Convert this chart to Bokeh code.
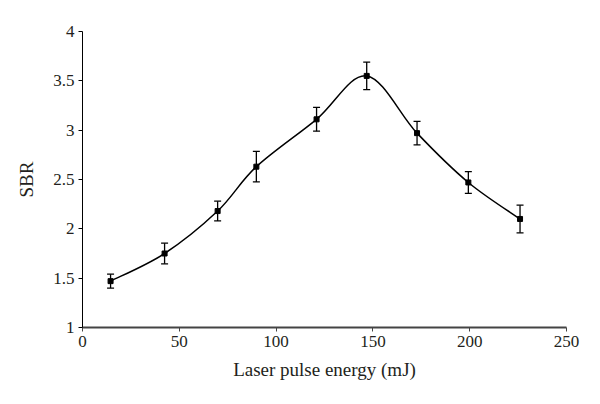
from bokeh.plotting import figure
from bokeh.models import ColumnDataSource, Whisker, TeeHead, CustomJSTickFormatter, FixedTicker
from bokeh.embed import file_html
from bokeh.resources import INLINE

# Data
energy = [14.5, 42.4, 69.8, 89.8, 120.9, 146.8, 172.8, 199.3, 226.0]
sbr = [1.47, 1.75, 2.18, 2.63, 3.11, 3.55, 2.97, 2.47, 2.10]
err = [0.07, 0.105, 0.10, 0.155, 0.12, 0.14, 0.12, 0.11, 0.14]

x_ticks = [0, 50, 100, 150, 200, 250]
y_ticks = [1, 1.5, 2, 2.5, 3, 3.5, 4]

FONT = "Liberation Serif"
TXT = "#231f20"

p = figure(width=600, height=404, output_backend="svg", toolbar_location=None,
           x_range=(0, 250), y_range=(1, 4),
           min_border_left=82, min_border_right=34, min_border_top=31, min_border_bottom=77)
p.outline_line_color = None
p.xgrid.visible = False
p.ygrid.visible = False
p.background_fill_color = "white"
p.border_fill_color = "white"

# Smooth curve (Catmull-Rom style Bezier through the data points)
n = len(energy)
x0, y0, x1, y1, cx0, cy0, cx1, cy1 = [], [], [], [], [], [], [], []
for i in range(n - 1):
    im = max(i - 1, 0)
    ip2 = min(i + 2, n - 1)
    x0.append(energy[i]); y0.append(sbr[i])
    x1.append(energy[i + 1]); y1.append(sbr[i + 1])
    cx0.append(energy[i] + (energy[i + 1] - energy[im]) / 6.0)
    cy0.append(sbr[i] + (sbr[i + 1] - sbr[im]) / 6.0)
    cx1.append(energy[i + 1] - (energy[ip2] - energy[i]) / 6.0)
    cy1.append(sbr[i + 1] - (sbr[ip2] - sbr[i]) / 6.0)
bez = ColumnDataSource(dict(x0=x0, y0=y0, x1=x1, y1=y1, cx0=cx0, cy0=cy0, cx1=cx1, cy1=cy1))
p.bezier(x0="x0", y0="y0", x1="x1", y1="y1", cx0="cx0", cy0="cy0", cx1="cx1", cy1="cy1",
         source=bez, line_color="black", line_width=1.5)

src = ColumnDataSource(dict(x=energy, y=sbr,
                            upper=[s + e for s, e in zip(sbr, err)],
                            lower=[s - e for s, e in zip(sbr, err)]))
w = Whisker(base="x", upper="upper", lower="lower", source=src, line_color="black", line_width=1.3,
            upper_head=TeeHead(size=7, line_color="black", line_width=1.3),
            lower_head=TeeHead(size=7, line_color="black", line_width=1.3))
p.add_layout(w)
p.scatter("x", "y", source=src, marker="square", size=5, color="black")

fmt = CustomJSTickFormatter(code="return tick.toString();")
p.xaxis.ticker = FixedTicker(ticks=x_ticks)
p.yaxis.ticker = FixedTicker(ticks=y_ticks)
p.yaxis.formatter = fmt
p.xaxis.formatter = fmt

for ax in (p.xaxis, p.yaxis):
    ax.major_label_text_font = FONT
    ax.major_label_text_font_size = "17px"
    ax.major_label_text_color = TXT
    ax.axis_label_text_font = FONT
    ax.axis_label_text_font_size = "19px"
    ax.axis_label_text_font_style = "normal"
    ax.axis_label_text_color = TXT
    ax.minor_tick_line_color = None
    ax.major_tick_in = 0
    ax.major_tick_out = 4
    ax.major_label_standoff = 4

p.xaxis.axis_label = "Laser pulse energy (mJ)"
p.yaxis.axis_label = "SBR"
p.xaxis.axis_line_color = "#444444"
p.xaxis.axis_line_width = 2
p.xaxis.major_tick_line_color = "#444444"
p.yaxis.axis_line_color = "black"
p.yaxis.major_tick_line_color = "black"
p.xaxis.axis_label_standoff = 9
p.yaxis.axis_label_standoff = 13

open("out.html", "w").write(file_html(p, INLINE))
